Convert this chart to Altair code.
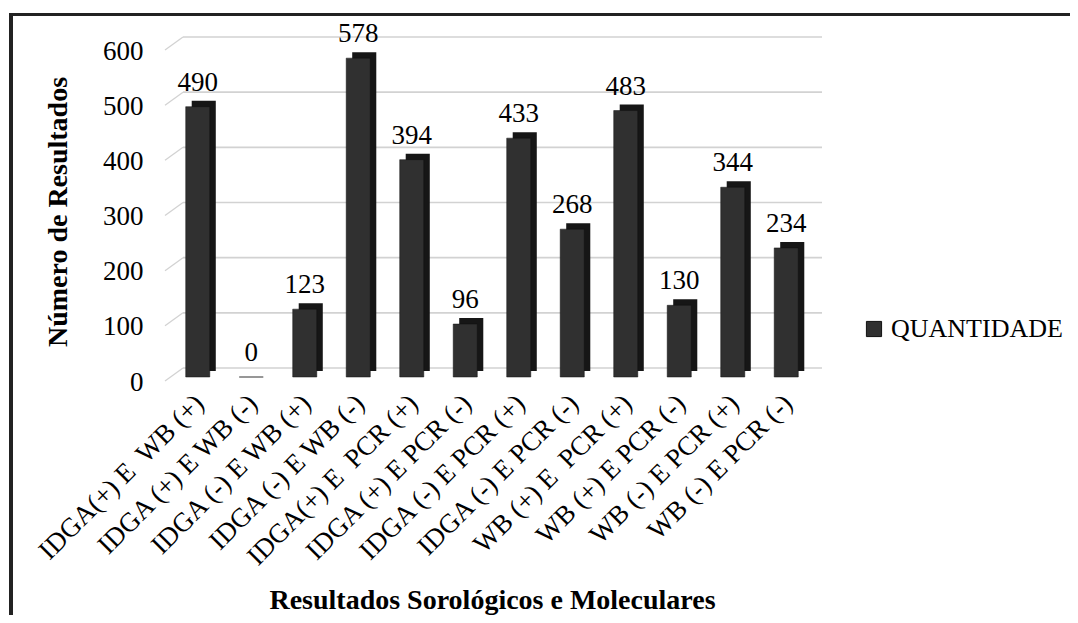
import altair as alt
import pandas as pd

categories = [
    "IDGA(+) E\u00a0 WB (+)",
    "IDGA (+) E WB (-)",
    "IDGA (-) E WB (+)",
    "IDGA (-) E WB (-)",
    "IDGA(+) E\u00a0 PCR (+)",
    "IDGA (+) E PCR (-)",
    "IDGA (-) E PCR (+)",
    "IDGA (-) E PCR (-)",
    "WB (+) E\u00a0 PCR (+)",
    "WB (+) E PCR (-)",
    "WB (-) E PCR (+)",
    "WB (-) E PCR (-)",
]
values = [490, 0, 123, 578, 394, 96, 433, 268, 483, 130, 344, 234]
series_name = "QUANTIDADE"
y_ticks = [0, 100, 200, 300, 400, 500, 600]

FONT = "Liberation Serif"
W, H = 642, 331

df = pd.DataFrame({"cat": categories, "value": values, "serie": [series_name] * len(values)})
grid_df = pd.DataFrame({"g": y_ticks})

yscale = alt.Scale(domain=[0, 600], nice=False, zero=True)
xscale = alt.Scale(domain=categories, paddingInner=0.55, paddingOuter=0.275)

x_axis = alt.Axis(
    title="Resultados Sorológicos e Moleculares",
    titleFont=FONT, titleFontSize=28, titleFontWeight="bold", titleColor="#000",
    titleBaseline="alphabetic", titleY=231,
    labelFont=FONT, labelFontSize=27, labelColor="#000",
    labelAngle=-45, labelAlign="right", labelBaseline="middle",
    labelPadding=22, labelOffset=2,
    domain=False, ticks=False, grid=False, labelLimit=400,
)
y_axis = alt.Axis(
    title="Número de Resultados",
    titleFont=FONT, titleFontSize=28, titleFontWeight="bold", titleColor="#000",
    titlePadding=30,
    labelFont=FONT, labelFontSize=27, labelColor="#000",
    labelPadding=28, labelOffset=5,
    values=y_ticks, domain=False, ticks=False, grid=False,
)

X = alt.X("cat:N", scale=xscale, sort=categories, axis=x_axis)
Y = alt.Y("value:Q", scale=yscale, axis=y_axis)

front = alt.Chart(df).mark_bar(stroke="#111", strokeWidth=0.5).encode(
    x=X, y=Y,
    color=alt.Color(
        "serie:N",
        scale=alt.Scale(range=["#303030"]),
        legend=alt.Legend(
            title=None, orient="none", legendX=690, legendY=270,
            symbolType="square", symbolSize=230, symbolStrokeColor="#111", symbolStrokeWidth=1,
            labelFont=FONT, labelFontSize=26, labelColor="#000", labelOffset=4, labelLimit=400,
        ),
    ),
)
side = alt.Chart(df).mark_bar(color="#161616", xOffset=6, x2Offset=6, yOffset=-6, y2Offset=-6).encode(
    x=X, y=Y,
)
grid = alt.Chart(grid_df).mark_rule(color="#d2d2d2", strokeWidth=1.6, yOffset=-9, y2Offset=-9).encode(
    y=alt.Y("g:Q", scale=yscale, axis=y_axis),
    y2=alt.Y2("g:Q"),
    x=alt.value(12), x2=alt.value(W + 9),
)
diag = alt.Chart(grid_df).mark_rule(color="#d2d2d2", strokeWidth=1.3, yOffset=4, y2Offset=-9).encode(
    y=alt.Y("g:Q", scale=yscale, axis=y_axis),
    y2=alt.Y2("g:Q"),
    x=alt.value(-6), x2=alt.value(12),
)
labels = alt.Chart(df).mark_text(font=FONT, fontSize=27, color="#000", dy=-16, baseline="alphabetic").encode(
    x=X, y=Y,
    text=alt.Text("value:Q"),
)

frame_left = alt.Chart(df).mark_rule(color="#222", strokeWidth=3).encode(
    x=alt.value(-160), y=alt.value(-32), y2=alt.value(620)
)
frame_top = alt.Chart(df).mark_rule(color="#222", strokeWidth=3).encode(
    x=alt.value(-161.5), x2=alt.value(1000), y=alt.value(-31.5)
)

chart = alt.layer(grid, diag, side, front, labels, frame_left, frame_top).properties(
    width=W, height=H,
    autosize=alt.AutoSizeParams(type="none"),
    padding={"left": 163, "top": 38, "right": 1062 - 163 - W, "bottom": 607 - 38 - H},
).configure(background="white", view=alt.ViewConfig(stroke=None))

chart.save("out.html", embed_options={"renderer": "svg", "actions": False})
